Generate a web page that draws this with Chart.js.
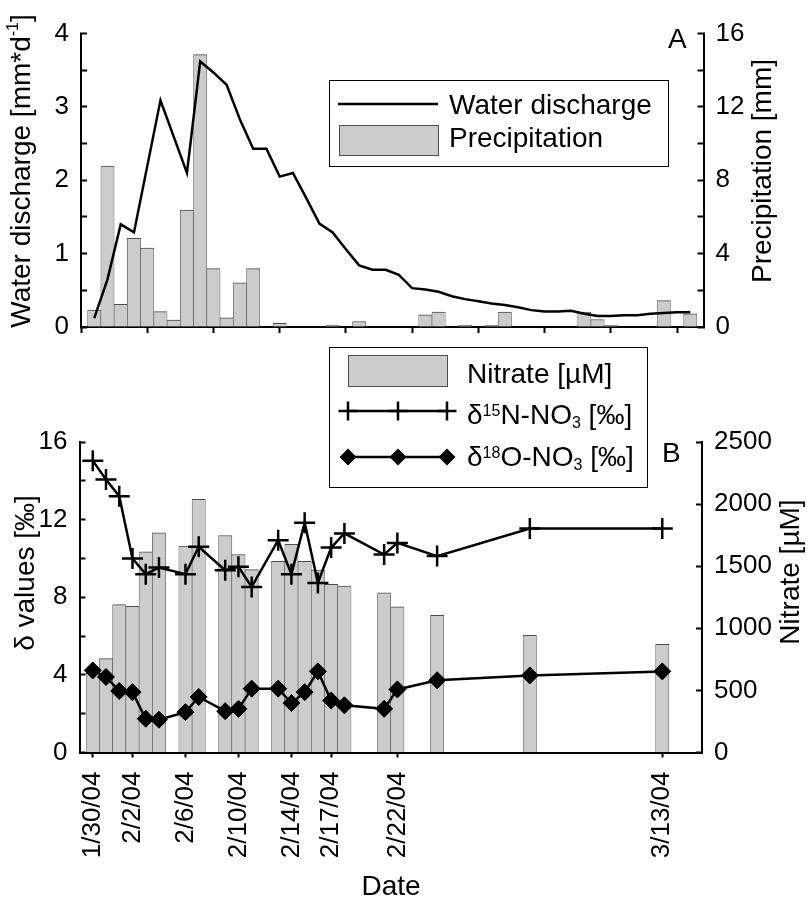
<!DOCTYPE html>
<html>
<head>
<meta charset="utf-8">
<script src="https://cdn.jsdelivr.net/npm/chart.js@4.4.3/dist/chart.umd.min.js"></script>
<style>
  html, body { margin: 0; padding: 0; background: #fff; }
  #wrap { position: relative; width: 811px; height: 899px; }
  #wrap canvas { position: absolute; left: 0; top: 0; }
</style>
</head>
<body>
<div id="wrap">
  <canvas id="chartA" width="811" height="899"></canvas>
  <canvas id="chartB" width="811" height="899"></canvas>
</div>
<script>
// ---- panel A: daily series starting at startDate ----
const startDate = '1/30/04';
const precipitation = [0.92, 8.77, 1.23, 4.83, 4.31, 0.84, 0.38, 6.37, 14.85, 3.18,
    0.50, 2.41, 3.18, 0, 0.2, 0, 0, 0, 0.1, 0,
    0.3, 0, 0, 0, 0, 0.67, 0.82, 0, 0.09, 0,
    0.09, 0.82, 0, 0, 0, 0, 0, 0.82, 0.41, 0.09,
    0, 0, 0, 1.44, 0, 0.72];
const discharge = [0.12, 0.65, 1.40, 1.29, null, 3.09, null, 2.10, 3.62, 3.47,
    3.30, 2.83, 2.43, 2.43, 2.05, 2.10, 1.76, 1.41, 1.29, 1.06,
    0.84, 0.78, 0.78, 0.71, 0.53, 0.51, 0.48, 0.42, 0.38, 0.35,
    0.32, 0.30, 0.27, 0.23, 0.21, 0.21, 0.22, 0.18, 0.15, 0.15,
    0.16, 0.16, 0.18, 0.19, 0.20, 0.20];
const aTickDates = ['1/29/04', '2/3/04', '2/8/04', '2/13/04', '2/18/04', '2/23/04', '2/28/04', '3/4/04', '3/9/04', '3/14/04'];

// ---- panel B: sampling dates ----
const sampleDates = ['1/30/04', '1/31/04', '2/1/04', '2/2/04', '2/3/04', '2/4/04', '2/6/04', '2/7/04', '2/9/04', '2/10/04', '2/11/04',
    '2/13/04', '2/14/04', '2/15/04', '2/16/04', '2/17/04', '2/18/04', '2/21/04', '2/22/04', '2/25/04', '3/3/04', '3/13/04'];
const nitrate = [640, 756, 1191, 1177, 1616, 1769, 1661, 2038, 1747, 1594, 1473,
    1540, 1677, 1540, 1468, 1355, 1339, 1285, 1172, 1105, 944, 871];
const d15N = [15.04, 14.07, 13.21, 10.0, 9.19, 9.53, 9.19, 10.6, 9.39, 9.57, 8.53,
    10.94, 9.19, 11.84, 8.74, 10.56, 11.29, 10.2, 10.8, 10.12, 11.54, 11.54];
const d18O = [4.23, 3.89, 3.17, 3.11, 1.74, 1.69, 2.08, 2.86, 2.13, 2.25, 3.29,
    3.29, 2.55, 3.11, 4.18, 2.68, 2.43, 2.25, 3.25, 3.72, 3.97, 4.18];
const bTickDates = ['1/30/04', '2/2/04', '2/6/04', '2/10/04', '2/14/04', '2/17/04', '2/22/04', '3/13/04'];

const xMinDate = '1/29/04';
const xMaxDate = '3/16/04';

const FONT = '"Liberation Sans", Arial, sans-serif';
const BAR_FILL = '#cccccc';
const BAR_EDGE = '#4d4d4d';

function dayNum(s) {
    const [m, d, y] = s.split('/').map(Number);
    return (Date.UTC(2000 + y, m - 1, d) - Date.UTC(2004, 0, 30)) / 86400000;
}

const x0 = dayNum(startDate);

function yAxis(position, min, max, step, labelEvery, width) {
    return {
        type: 'linear',
        position: position,
        min: min,
        max: max,
        afterFit: s => { s.width = width; },
        border: { display: true, color: '#000', width: 2 },
        grid: { drawOnChartArea: false, drawTicks: true, tickLength: -6, tickColor: '#000', tickWidth: 2 },
        ticks: {
            stepSize: step,
            padding: 18,
            color: '#000',
            font: { family: FONT, size: 26 },
            callback: v => (Math.abs(v / labelEvery - Math.round(v / labelEvery)) < 1e-6 ? v : '')
        }
    };
}

// text with super/subscripts: parts = [[text, mode]], mode 1 sup, -1 sub
function richWidth(ctx, parts, size) {
    let w = 0;
    parts.forEach(([t, m]) => {
        ctx.font = (m ? Math.round(size * 0.57) : size) + 'px ' + FONT;
        w += ctx.measureText(t).width;
    });
    return w;
}

function drawRich(ctx, parts, x, y, size) {
    let cx = x;
    parts.forEach(([t, m]) => {
        ctx.font = (m ? Math.round(size * 0.57) : size) + 'px ' + FONT;
        const dy = m === 1 ? -size * 0.30 : (m === -1 ? size * 0.14 : 0);
        ctx.fillText(t, cx, y + dy);
        cx += ctx.measureText(t).width;
    });
}

function drawRotated(ctx, parts, cx, cy, size) {
    ctx.save();
    ctx.translate(cx, cy);
    ctx.rotate(-Math.PI / 2);
    ctx.textBaseline = 'middle';
    ctx.textAlign = 'left';
    const w = richWidth(ctx, parts, size);
    drawRich(ctx, parts, -w / 2, 0, size);
    ctx.restore();
}

function drawCross(ctx, x, y, r) {
    ctx.beginPath();
    ctx.moveTo(x - r, y); ctx.lineTo(x + r, y);
    ctx.moveTo(x, y - r); ctx.lineTo(x, y + r);
    ctx.stroke();
}

function drawDiamond(ctx, x, y, r) {
    ctx.beginPath();
    ctx.moveTo(x - r, y); ctx.lineTo(x, y - r); ctx.lineTo(x + r, y); ctx.lineTo(x, y + r);
    ctx.closePath();
    ctx.fill();
}

const decorA = {
    id: 'decorA',
    afterDraw(chart) {
        const ctx = chart.ctx;
        ctx.save();
        // legend
        ctx.fillStyle = '#fff';
        ctx.fillRect(329.5, 80.5, 339, 86);
        ctx.strokeStyle = '#000';
        ctx.lineWidth = 1;
        ctx.strokeRect(329.5, 80.5, 339, 86);
        ctx.lineWidth = 2.5;
        ctx.beginPath(); ctx.moveTo(338, 104); ctx.lineTo(438, 104); ctx.stroke();
        ctx.fillStyle = BAR_FILL;
        ctx.fillRect(339, 125, 100, 31);
        ctx.strokeStyle = BAR_EDGE;
        ctx.lineWidth = 1;
        ctx.strokeRect(339.5, 125.5, 99, 30);
        ctx.fillStyle = '#000';
        ctx.textBaseline = 'alphabetic';
        ctx.textAlign = 'left';
        ctx.font = '28px ' + FONT;
        ctx.fillText('Water discharge', 449, 114);
        ctx.fillText('Precipitation', 449, 147);
        ctx.fillText('A', 668, 48);
        // axis titles
        drawRotated(ctx, [['Water discharge [mm*d', 0], ['-1', 1], [']', 0]], 22, 171, 28);
        drawRotated(ctx, [['Precipitation [mm]', 0]], 763, 171, 28);
        ctx.restore();
    }
};

const decorB = {
    id: 'decorB',
    afterDraw(chart) {
        const ctx = chart.ctx;
        ctx.save();
        ctx.fillStyle = '#fff';
        ctx.fillRect(329.5, 347.5, 318, 140);
        ctx.strokeStyle = '#000';
        ctx.lineWidth = 1;
        ctx.strokeRect(329.5, 347.5, 318, 140);
        ctx.fillStyle = BAR_FILL;
        ctx.fillRect(348, 355, 100, 32);
        ctx.strokeStyle = BAR_EDGE;
        ctx.strokeRect(348.5, 355.5, 99, 31);
        ctx.strokeStyle = '#000';
        ctx.fillStyle = '#000';
        ctx.lineWidth = 2.5;
        ctx.beginPath(); ctx.moveTo(348, 411); ctx.lineTo(447, 411); ctx.stroke();
        [348, 398, 447].forEach(x => drawCross(ctx, x, 411, 9.5));
        ctx.beginPath(); ctx.moveTo(348, 457); ctx.lineTo(447, 457); ctx.stroke();
        [348, 398, 447].forEach(x => drawDiamond(ctx, x, 457, 8.5));
        ctx.textBaseline = 'alphabetic';
        ctx.textAlign = 'left';
        ctx.font = '28px ' + FONT;
        ctx.fillText('Nitrate [\u00b5M]', 467, 383);
        drawRich(ctx, [['\u03b4', 0], ['15', 1], ['N-NO', 0], ['3', -1], [' [\u2030]', 0]], 467, 424, 28);
        drawRich(ctx, [['\u03b4', 0], ['18', 1], ['O-NO', 0], ['3', -1], [' [\u2030]', 0]], 467, 466, 28);
        ctx.font = '28px ' + FONT;
        ctx.fillText('B', 662, 462);
        ctx.textAlign = 'center';
        ctx.fillText('Date', 391, 895);
        drawRotated(ctx, [['\u03b4 values [\u2030]', 0]], 26, 573, 28);
        drawRotated(ctx, [['Nitrate [\u00b5M]', 0]], 791, 572, 28);
        ctx.restore();
    }
};

const commonOpts = {
    responsive: false,
    animation: false,
    devicePixelRatio: 1,
    plugins: { legend: { display: false }, tooltip: { enabled: false } }
};

new Chart(document.getElementById('chartA').getContext('2d'), {
    type: 'bar',
    data: {
        datasets: [
            {
                type: 'line',
                label: 'Water discharge',
                data: discharge.map((v, i) => ({ x: x0 + i, y: v })),
                yAxisID: 'y',
                borderColor: '#000',
                borderWidth: 2.5,
                pointRadius: 0,
                tension: 0,
                spanGaps: true,
                order: 1
            },
            {
                type: 'bar',
                label: 'Precipitation',
                data: precipitation.map((v, i) => ({ x: x0 + i, y: v })),
                yAxisID: 'y2',
                backgroundColor: BAR_FILL,
                borderColor: BAR_EDGE,
                borderWidth: { top: 1, left: 0.6, right: 0.6, bottom: 0 },
                borderSkipped: false,
                barPercentage: 1,
                categoryPercentage: 1,
                order: 2
            }
        ]
    },
    options: {
        ...commonOpts,
        layout: { padding: { top: 16, left: 0, right: 0, bottom: 0 } },
        scales: {
            x: {
                type: 'linear',
                min: dayNum(xMinDate),
                max: dayNum(xMaxDate),
                offset: false,
                afterBuildTicks: s => { s.ticks = aTickDates.map(d => ({ value: dayNum(d) })); },
                afterFit: s => { s.height = 899 - 327; },
                border: { display: true, color: '#000', width: 2 },
                grid: { drawOnChartArea: false, offset: false, tickLength: 6, tickColor: '#000', tickWidth: 2 },
                ticks: { autoSkip: false, callback: () => '' }
            },
            y: yAxis('left', 0, 4, 0.5, 1, 81),
            y2: yAxis('right', 0, 16, 2, 4, 811 - 703.5)
        }
    },
    plugins: [decorA]
});

new Chart(document.getElementById('chartB').getContext('2d'), {
    type: 'bar',
    data: {
        datasets: [
            {
                type: 'line',
                label: '\u03b415N-NO3',
                data: sampleDates.map((d, i) => ({ x: dayNum(d), y: d15N[i] })),
                yAxisID: 'y',
                borderColor: '#000',
                borderWidth: 2.5,
                pointStyle: 'cross',
                pointRadius: 10.5,
                pointBorderWidth: 2.5,
                pointBorderColor: '#000',
                tension: 0,
                order: 1
            },
            {
                type: 'line',
                label: '\u03b418O-NO3',
                data: sampleDates.map((d, i) => ({ x: dayNum(d), y: d18O[i] })),
                yAxisID: 'y',
                borderColor: '#000',
                borderWidth: 2.5,
                pointStyle: 'rectRot',
                pointRadius: 8.5,
                pointBorderWidth: 1,
                pointBackgroundColor: '#000',
                pointBorderColor: '#000',
                tension: 0,
                order: 1
            },
            {
                type: 'bar',
                label: 'Nitrate',
                data: sampleDates.map((d, i) => ({ x: dayNum(d), y: nitrate[i] })),
                yAxisID: 'y2',
                backgroundColor: BAR_FILL,
                borderColor: BAR_EDGE,
                borderWidth: { top: 1, left: 0.6, right: 0.6, bottom: 0 },
                borderSkipped: false,
                barPercentage: 1,
                categoryPercentage: 1,
                order: 2
            }
        ]
    },
    options: {
        ...commonOpts,
        layout: { padding: { top: 442, left: 0, right: 0, bottom: 0 } },
        scales: {
            x: {
                type: 'linear',
                min: dayNum(xMinDate),
                max: dayNum(xMaxDate),
                offset: false,
                afterBuildTicks: s => { s.ticks = bTickDates.map(d => ({ value: dayNum(d) })); },
                afterFit: s => { s.height = 899 - 752.5; },
                border: { display: true, color: '#000', width: 2 },
                grid: { drawOnChartArea: false, offset: false, tickLength: 5, tickColor: '#000', tickWidth: 2 },
                ticks: {
                    autoSkip: false,
                    minRotation: 90,
                    maxRotation: 90,
                    padding: 14,
                    color: '#000',
                    font: { family: FONT, size: 26 },
                    callback: (v, i) => bTickDates[i]
                }
            },
            y: yAxis('left', 0, 16, 2, 4, 79.5),
            y2: yAxis('right', 0, 2500, 250, 500, 811 - 702)
        }
    },
    plugins: [decorB]
});
</script>
</body>
</html>
